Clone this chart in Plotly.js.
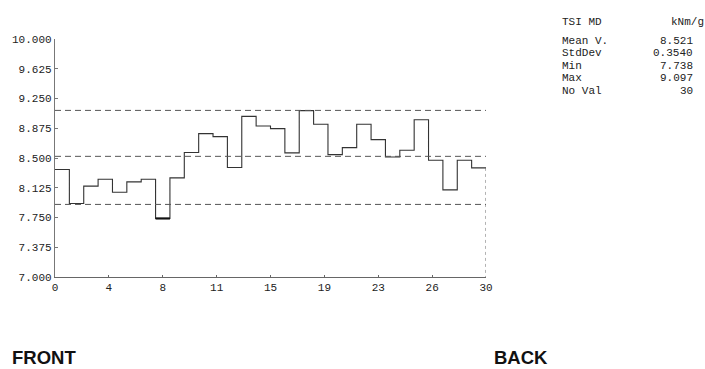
<!DOCTYPE html>
<html>
<head>
<meta charset="utf-8">
<script src="https://cdn.plot.ly/plotly-3.0.1.min.js"></script>
<style>html,body{margin:0;padding:0;background:#fff;}#chart{width:705px;height:369px;}</style>
</head>
<body>
<div id="chart"></div>
<script>
// TSI MD values per position (1..30)
const values = [8.355, 7.927, 8.145, 8.233, 8.069, 8.199, 8.233, 7.738, 8.249, 8.569,
                8.807, 8.770, 8.380, 9.025, 8.903, 8.870, 8.564, 9.097, 8.925, 8.543,
                8.631, 8.925, 8.732, 8.513, 8.597, 8.983, 8.472, 8.098, 8.472, 8.375];
const limitLines = [9.100, 8.521, 7.915];
const xTickVals = [0, 3.75, 7.5, 11.25, 15, 18.75, 22.5, 26.25, 30];
const xTickText = ['0', '4', '8', '11', '15', '19', '23', '26', '30'];
const yTickVals = [7.000, 7.375, 7.750, 8.125, 8.500, 8.875, 9.250, 9.625, 10.000];
const statLabels = ['Mean V.', 'StdDev', 'Min', 'Max', 'No Val'];
const statValues = ['8.521', '0.3540', '7.738', '9.097', '30'];
const headerLeft = 'TSI MD';
const headerRight = 'kNm/g';
const sideLabels = ['FRONT', 'BACK'];

const n = values.length;
const xs = values.map((v, i) => i).concat([n]);
const ys = values.concat([values[n - 1]]);
const minIdx = values.indexOf(Math.min(...values));

const mono = 'Liberation Mono, Courier New, monospace';
const traces = [
  {x: xs, y: ys, type: 'scatter', mode: 'lines', line: {shape: 'hv', color: '#333', width: 1.1}, hoverinfo: 'skip'},
  {x: [minIdx, minIdx + 1], y: [values[minIdx], values[minIdx]], type: 'scatter', mode: 'lines', line: {color: '#111', width: 2.2}, hoverinfo: 'skip'},
  {x: [n, n], y: [values[n - 1], 7], type: 'scatter', mode: 'lines', line: {color: '#666', width: 1, dash: 'dot'}, hoverinfo: 'skip'}
];

const shapes = limitLines.map(v => ({type: 'line', xref: 'x', yref: 'y', x0: 0, x1: n, y0: v, y1: v,
  line: {color: '#555', width: 1, dash: '6px,4px'}}));

const annotations = [];
annotations.push({xref: 'paper', yref: 'paper', x: 1.172, y: 1.07, xanchor: 'left', yanchor: 'middle', text: headerLeft, showarrow: false, font: {family: mono, size: 11, color: '#222'}});
annotations.push({xref: 'paper', yref: 'paper', x: 1.51, y: 1.07, xanchor: 'right', yanchor: 'middle', text: headerRight, showarrow: false, font: {family: mono, size: 11, color: '#222'}});
statLabels.forEach((s, i) => {
  const yy = 0.992 - i * 0.0525;
  annotations.push({xref: 'paper', yref: 'paper', x: 1.172, y: yy, xanchor: 'left', yanchor: 'middle', text: s, showarrow: false, font: {family: mono, size: 11, color: '#222'}});
  annotations.push({xref: 'paper', yref: 'paper', x: 1.485, y: yy, xanchor: 'right', yanchor: 'middle', text: statValues[i], showarrow: false, font: {family: mono, size: 11, color: '#222'}});
});
annotations.push({xref: 'paper', yref: 'paper', x: -0.104, y: -0.34, xanchor: 'left', yanchor: 'middle', text: '<b>' + sideLabels[0] + '</b>', showarrow: false, font: {family: 'Liberation Sans, Arial, sans-serif', size: 18.5, color: '#111'}});
annotations.push({xref: 'paper', yref: 'paper', x: 1.013, y: -0.34, xanchor: 'left', yanchor: 'middle', text: '<b>' + sideLabels[1] + '</b>', showarrow: false, font: {family: 'Liberation Sans, Arial, sans-serif', size: 18.5, color: '#111'}});

const layout = {
  width: 705, height: 369,
  margin: {l: 55, r: 219, t: 38.5, b: 92, pad: 0},
  paper_bgcolor: '#fff', plot_bgcolor: '#fff',
  showlegend: false,
  xaxis: {range: [0, 30], tickvals: xTickVals, ticktext: xTickText, showgrid: false, zeroline: false,
    showline: true, linecolor: '#666', linewidth: 1.2, ticks: 'inside', ticklen: 2, tickcolor: '#666',
    tickfont: {family: mono, size: 11, color: '#222'}, fixedrange: true},
  yaxis: {range: [7, 10], tickvals: yTickVals, tickformat: '.3f', showgrid: false, zeroline: false,
    showline: true, linecolor: '#777', linewidth: 1.2, ticks: 'inside', ticklen: 3, tickcolor: '#777',
    tickfont: {family: mono, size: 11, color: '#222'}, fixedrange: true},
  shapes: shapes,
  annotations: annotations
};

Plotly.newPlot('chart', traces, layout, {displayModeBar: false, staticPlot: true});
</script>
</body>
</html>
